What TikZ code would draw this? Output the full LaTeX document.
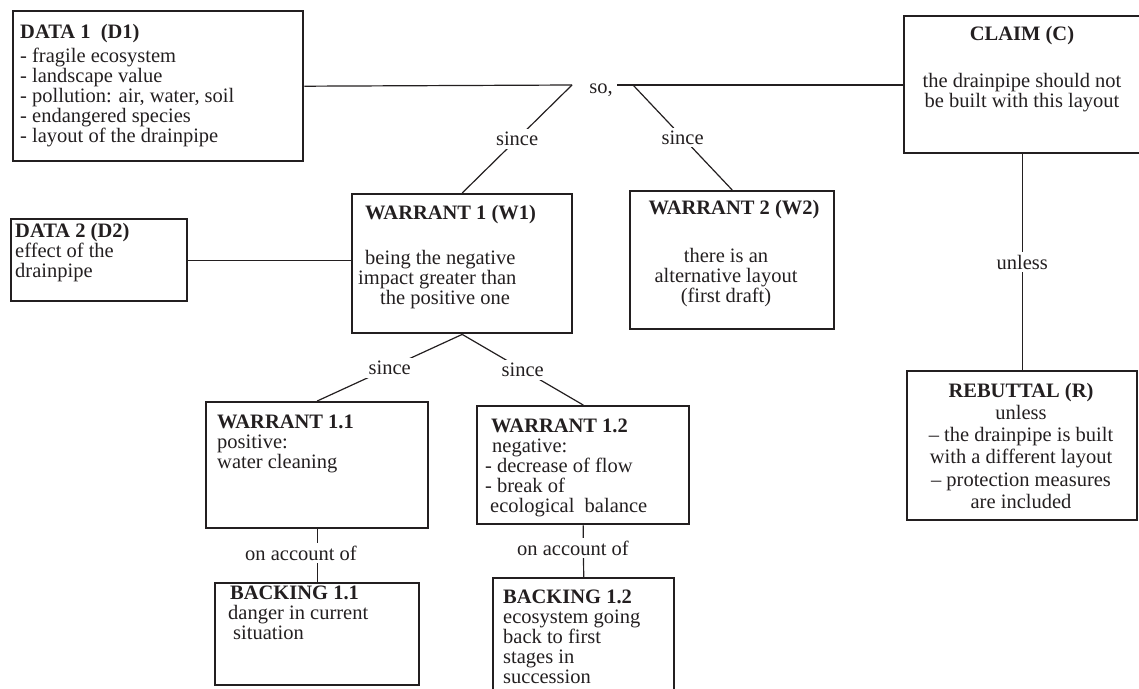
\documentclass[tikz,border=0pt]{standalone}
\usepackage{fontspec}
\setmainfont{Liberation Serif}
\usetikzlibrary{calc}
\newcommand\lnstrut{\rule{0pt}{15pt}}
\definecolor{ink}{HTML}{231F20}
\begin{document}
\begin{tikzpicture}[x=1pt,y=-1pt,
  box/.style={draw=ink, line width=2.4pt, rectangle, inner sep=0pt, anchor=north west},
  link/.style={draw=ink, line width=1.2pt},
  txt/.style={inner sep=0pt, text=ink, font=\fontsize{20.5}{20}\selectfont},
  lbl/.style={fill=white, inner sep=3pt, text=ink, font=\fontsize{20.5}{20}\selectfont},
  plain/.style={inner sep=0pt, text=ink, font=\fontsize{20.5}{20}\selectfont},
]
\useasboundingbox (0,0) rectangle (1139,688);

% boxes
\node[box, minimum width=290, minimum height=150] (D1) at (12,10) {};
\node[box, minimum width=236, minimum height=137] (C) at (903,15) {};
\node[box, minimum width=220, minimum height=139] (W1) at (351,193) {};
\node[box, minimum width=204, minimum height=138] (W2) at (629,190) {};
\node[box, minimum width=176, minimum height=82] (D2) at (10,218) {};
\node[box, minimum width=230, minimum height=149] (R) at (906,370) {};
\node[box, minimum width=222, minimum height=126] (W11) at (205,401) {};
\node[box, minimum width=212, minimum height=118] (W12) at (476,405) {};
\node[box, minimum width=204, minimum height=102] (B11) at (214,582) {};
\node[box, minimum width=181, minimum height=130] (B12) at (492,577) {};

% box texts
\node[txt, anchor=north west, align=left] (D1t) at (20,23)
  {\lnstrut\textbf{DATA 1\ \ (D1)}\\[4pt]
   - fragile ecosystem\\ - landscape value\\ - pollution: air, water, soil\\
   - endangered species\\ - layout of the drainpipe};
\node[txt, anchor=north, align=center] (Ct) at (1022,25)
  {\lnstrut\textbf{CLAIM (C)}\\[27pt] the drainpipe should not\\ be built with this layout};
\node[txt, anchor=north west, align=left] (W1t) at (358,204)
  {\lnstrut\hspace*{7pt}\textbf{WARRANT 1 (W1)}\\[25pt]
   \hspace*{7pt}being the negative\\ impact greater than\\ \hspace*{22pt}the positive one};
\node[txt, anchor=north, align=center] (W2t) at (726,199)
  {\lnstrut\hspace*{16pt}\textbf{WARRANT 2 (W2)}\\[28pt] there is an\\ alternative layout\\ (first draft)};
\node[txt, anchor=north west, align=left] (D2t) at (15,222)
  {\lnstrut\textbf{DATA 2 (D2)}\\ effect of the\\ drainpipe};
\node[txt, anchor=north west, align=left] (W11t) at (217,413)
  {\lnstrut\textbf{WARRANT 1.1}\\ positive:\\ water cleaning};
\node[txt, anchor=north west, align=left] (W12t) at (485,417)
  {\lnstrut\hspace*{6pt}\textbf{WARRANT 1.2}\\ \hspace*{7pt}negative:\\ - decrease of flow\\
   - break of\\ \hspace*{5pt}ecological\ \ balance};
\node[txt, anchor=north west, align=left] (B11t) at (228,584)
  {\lnstrut\hspace*{2pt}\textbf{BACKING 1.1}\\ danger in current\\ \hspace*{5pt}situation};
\node[txt, anchor=north west, align=left] (B12t) at (503,588)
  {\lnstrut\textbf{BACKING 1.2}\\ ecosystem going\\ back to first\\ stages in\\ succession};
\node[txt, anchor=north, align=center, font=\fontsize{20.5}{22.2}\selectfont] (Rt) at (1021,382)
  {\lnstrut\textbf{REBUTTAL (R)}\\ unless\\ -- the drainpipe is built\\ with a different layout\\
   -- protection measures\\ are included};

% main line: data -- so, -- claim
\coordinate (soL) at (572,85);
\coordinate (soR) at (617,85);
\coordinate (soD) at (633,85);
\node[plain, anchor=base] (so) at (601,93) {so,};
\draw[link] (D1.east) -- (soL);
\draw[link] (soR) -- (soR -| C.west);

% warrants
\draw[link] (soL) -- node[lbl] (s1) {since} (W1.north);
\draw[link] (soD) -- node[lbl] (s2) {since} (W2.north);
\draw[link] (D2.east) -- (D2.east -| W1.west);
\draw[link] (W1.south) -- node[lbl] (s3) {since} (W11.north);
\draw[link] (W1.south) -- node[lbl] (s4) {since} (W12.north);

% backings
\draw[link] (W11.south) -- (B11.north);
\node[lbl, anchor=base] (a1) at (301,560) {on account of};
\draw[link] (W12.south) -- (B12.north);
\node[lbl, anchor=base] (a2) at (573,555) {on account of};

% rebuttal
\draw[link] (C.south) -- node[lbl] (u) {unless} (R.north);
\end{tikzpicture}
\end{document}
